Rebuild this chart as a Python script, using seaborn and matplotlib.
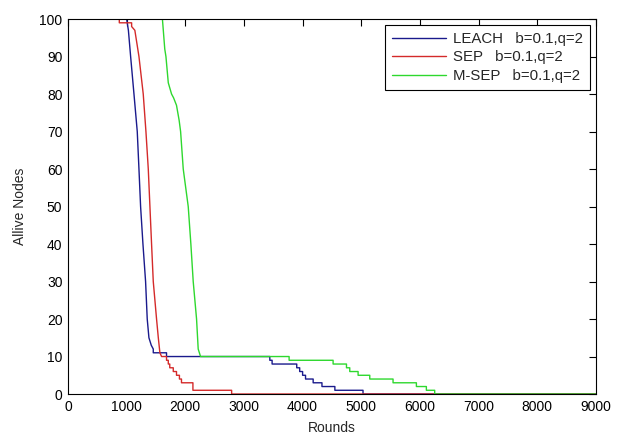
import pandas as pd
import matplotlib
matplotlib.use("Agg")
from matplotlib import pyplot as plt
import seaborn as sns

# corner points of the alive-node curves (round, alive nodes)
leach_rounds = [0, 1000, 1030, 1068, 1125, 1181, 1210, 1238, 1278, 1323, 1351, 1380, 1420, 1454,
                1454, 1680, 1680, 3441, 3441, 3480, 3480, 3900, 3900, 3950, 3950, 4000, 4000,
                4050, 4050, 4180, 4180, 4330, 4330, 4550, 4550, 5030, 5030, 9000]
leach_alive = [100, 100, 97, 90, 80, 70, 60, 50, 40, 30, 20, 15, 13, 12,
               11, 11, 10, 10, 9, 9, 8, 8, 7, 7, 6, 6, 5,
               5, 4, 4, 3, 3, 2, 2, 1, 1, 0, 0]

sep_rounds = [0, 875, 875, 1085, 1085, 1140, 1190, 1210, 1283, 1329, 1369, 1397, 1425, 1454,
              1510, 1540, 1567, 1596, 1680, 1680, 1710, 1710, 1735, 1735, 1795, 1795, 1850,
              1850, 1900, 1900, 1935, 1935, 2130, 2130, 2790, 2790, 9000]
sep_alive = [100, 100, 99, 99, 98, 97, 92, 90, 80, 70, 60, 50, 40, 30,
             20, 15, 11, 10, 10, 9, 9, 8, 8, 7, 7, 6, 6,
             5, 5, 4, 4, 3, 3, 1, 1, 0, 0]

msep_rounds = [0, 1610, 1650, 1670, 1710, 1766, 1800, 1850, 1895, 1920, 1965, 2050, 2095, 2135,
               2192, 2220, 2260, 3770, 3770, 4520, 4520, 4748, 4748, 4804, 4804, 4946, 4946,
               5145, 5145, 5542, 5542, 5940, 5940, 6110, 6110, 6252, 6252, 9000]
msep_alive = [100, 100, 92, 90, 83, 80, 79, 77, 73, 70, 60, 50, 40, 30,
              20, 12, 10, 10, 9, 9, 8, 8, 7, 7, 6, 6, 5,
              5, 4, 4, 3, 3, 2, 2, 1, 1, 0, 0]

labels = ["LEACH   b=0.1,q=2", "SEP   b=0.1,q=2", "M-SEP   b=0.1,q=2"]
colors = ["#1a1a8c", "#d42a2a", "#2ed82e"]

df = pd.concat([
    pd.DataFrame({"Rounds": leach_rounds, "Alive": leach_alive, "protocol": labels[0]}),
    pd.DataFrame({"Rounds": sep_rounds, "Alive": sep_alive, "protocol": labels[1]}),
    pd.DataFrame({"Rounds": msep_rounds, "Alive": msep_alive, "protocol": labels[2]}),
], ignore_index=True)

sns.set_style("white")
plt.rcParams["font.family"] = ["Liberation Sans", "DejaVu Sans"]

fig = plt.figure(figsize=(6.22, 4.33), dpi=100)
ax = fig.add_axes([0.1093, 0.090, 0.8487, 0.866])

sns.lineplot(data=df, x="Rounds", y="Alive", hue="protocol", palette=colors,
             estimator=None, sort=False, linewidth=1.0, ax=ax)

ax.set_xlim(0, 9000)
ax.set_ylim(0, 100)
ax.set_xticks(range(0, 9001, 1000))
ax.set_yticks(range(0, 101, 10))
ax.tick_params(direction="in", top=True, right=True, length=5, width=0.8,
               labelsize=10, colors="black", pad=4)
for s in ax.spines.values():
    s.set_color("black")
    s.set_linewidth(0.8)
ax.set_xlabel("Rounds", fontsize=10, labelpad=5)
ax.set_ylabel("Allive Nodes", fontsize=10, labelpad=9)

h, l = ax.get_legend_handles_labels()
leg = ax.legend(h, l, loc="upper right", fontsize=10.8, frameon=True, fancybox=False,
                edgecolor="black", framealpha=1, handlelength=3.6, handletextpad=0.5,
                borderpad=0.45, labelspacing=0.3, borderaxespad=0.4,
                bbox_to_anchor=(1.0, 1.0))
leg.get_frame().set_linewidth(0.8)

fig.savefig("out.png", dpi=100)
